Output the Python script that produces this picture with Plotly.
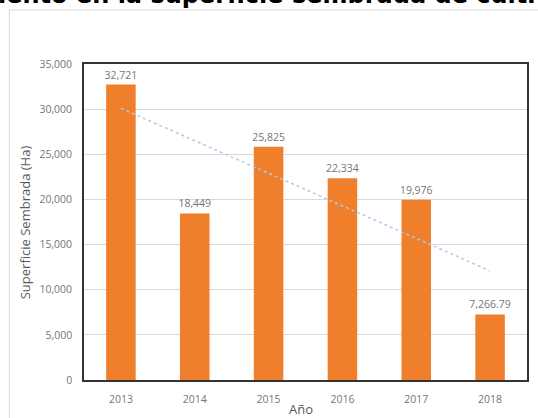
import plotly.graph_objects as go
import numpy as np

years = ["2013", "2014", "2015", "2016", "2017", "2018"]
superficie = [32721, 18449, 25825, 22334, 19976, 7266.79]
labels = ["32,721", "18,449", "25,825", "22,334", "19,976", "7,266.79"]
yticks = [0, 5000, 10000, 15000, 20000, 25000, 30000, 35000]
yticklabels = ["0", "5,000", "10,000", "15,000", "20,000", "25,000", "30,000", "35,000"]

W, H = 538, 418
L, R, T, B = 84, 9, 64, 38
pw, ph = W - L - R, H - T - B

def px(x):
    return (x - L) / pw

def py(y):
    return (H - B - y) / ph

# linear trend line (Excel-style) from the data
xi = np.arange(len(years))
m, c = np.polyfit(xi, superficie, 1)
trend = m * xi + c

font = "Open Sans"
gray = "#767676"

fig = go.Figure()
fig.add_trace(go.Bar(
    x=years, y=superficie, marker_color="#F07F2B", width=0.4,
    text=labels, textposition="outside", cliponaxis=False,
    constraintext="none",
    textfont=dict(family=font, size=10.5, color=gray),
    marker_line_width=0,
))
fig.add_trace(go.Scatter(
    x=years, y=trend, mode="lines",
    line=dict(color="#A9CDEB", width=1.5, dash="dot"),
))

fig.update_layout(
    width=W, height=H, margin=dict(l=L, r=R, t=T, b=B),
    paper_bgcolor="white", plot_bgcolor="white", showlegend=False,
    bargap=0.6,
    font=dict(family=font, color=gray),
    xaxis=dict(
        showgrid=False, showline=True, linecolor="#333333", linewidth=1.5,
        mirror=True, ticks="", tickfont=dict(size=10.5, color=gray),
        ticklabelstandoff=9,
    ),
    yaxis=dict(
        range=[0, 35000], tickvals=yticks, ticktext=yticklabels,
        showgrid=True, gridcolor="#d9d9d9", gridwidth=1,
        showline=True, linecolor="#333333", linewidth=1.5, mirror=True,
        ticks="", tickfont=dict(size=10.5, color=gray), zeroline=False,
        ticklabelstandoff=8,
    ),
    shapes=[dict(
        type="rect", xref="paper", yref="paper",
        x0=px(9), x1=px(560), y0=py(440), y1=py(10),
        line=dict(color="#d9d9d9", width=1), fillcolor="rgba(0,0,0,0)",
        layer="below",
    )],
    annotations=[
        dict(text="<b>miento en la superficie sembrada de cultivo</b>",
             xref="paper", yref="paper", x=px(-30), y=py(11),
             xanchor="left", yanchor="bottom", showarrow=False,
             font=dict(family="DejaVu Sans", size=24, color="black")),
        dict(text="Superficie Sembrada (Ha)", xref="paper", yref="paper",
             x=px(25), y=py(222), textangle=-90, showarrow=False,
             xanchor="center", yanchor="middle",
             font=dict(family=font, size=13, color="#595959")),
        dict(text="Año", xref="paper", yref="paper",
             x=px(302), y=py(409), showarrow=False,
             xanchor="center", yanchor="middle",
             font=dict(family=font, size=13, color="#595959")),
    ],
)

fig.write_html("out.html")
